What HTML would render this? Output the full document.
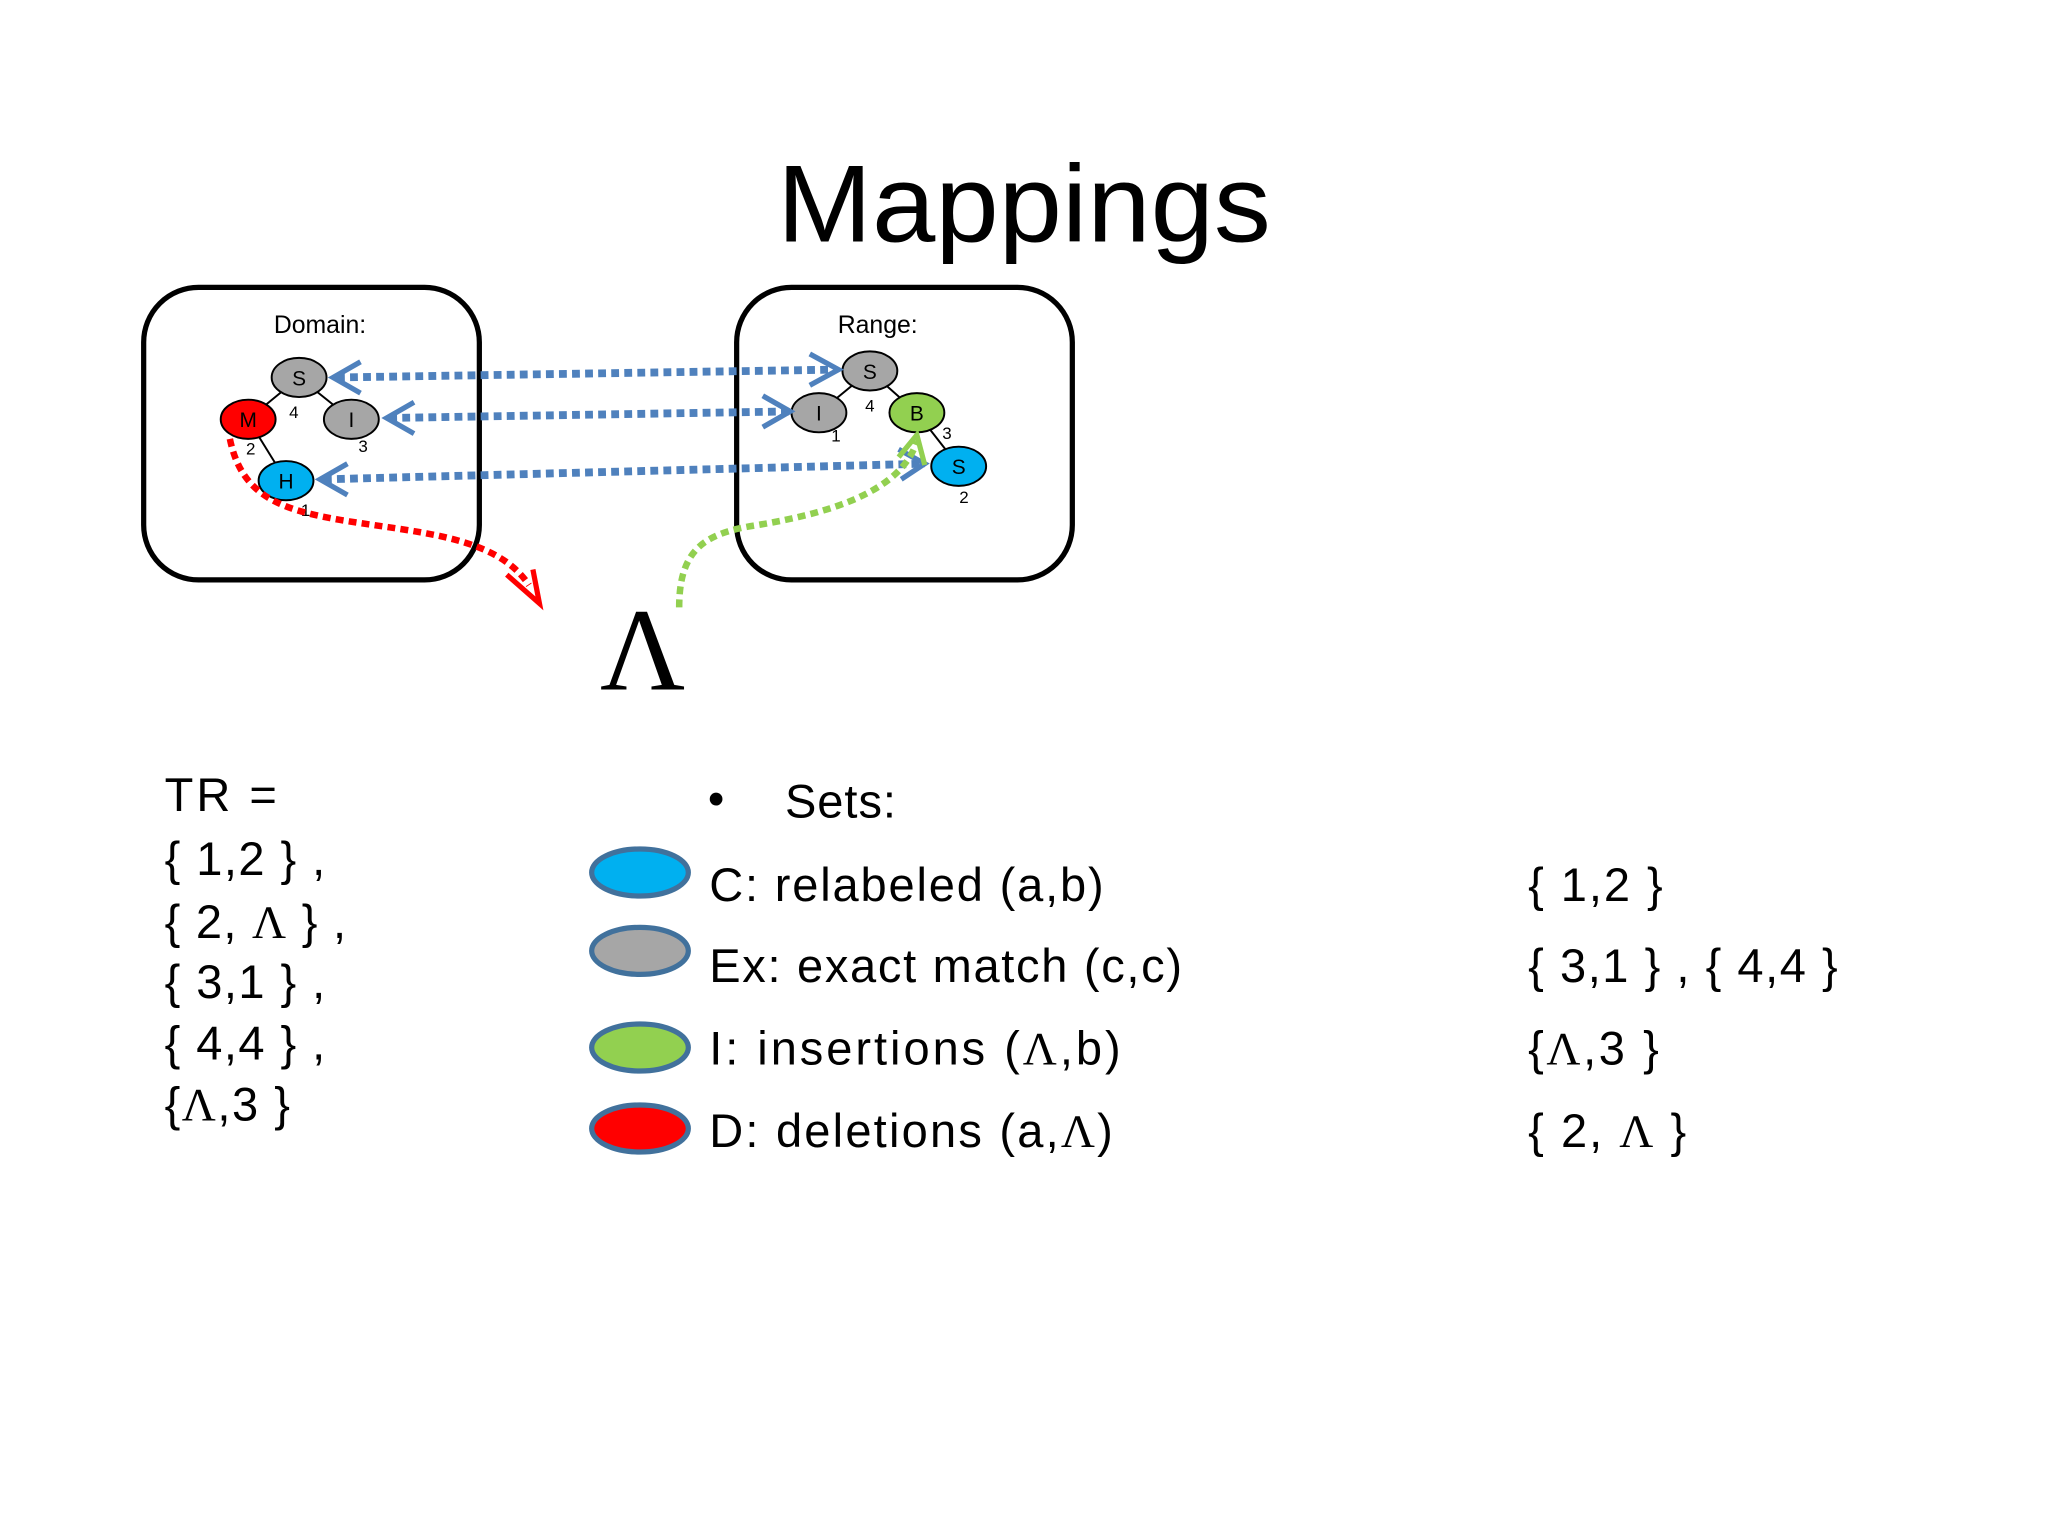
<!DOCTYPE html>
<html><head><meta charset="utf-8"><style>html,body{margin:0;padding:0;background:#fff}svg{display:block}</style></head>
<body>
<svg width="2048" height="1536" viewBox="0 0 1568 1176" xmlns="http://www.w3.org/2000/svg" font-family="Liberation Sans, sans-serif">
<rect width="1568" height="1176" fill="#fff"/>
<text x="595" y="185" font-size="84" textLength="378" lengthAdjust="spacingAndGlyphs" fill="#000">Mappings</text>
<rect x="110" y="220" width="257" height="224" rx="42" fill="none" stroke="#000" stroke-width="4"/>
<rect x="564" y="220" width="257" height="224" rx="42" fill="none" stroke="#000" stroke-width="4"/>
<text x="245" y="255" font-size="19" text-anchor="middle">Domain:</text>
<text x="672" y="255" font-size="19" text-anchor="middle">Range:</text>
<g stroke="#000" stroke-width="1.5">
<line x1="229" y1="289" x2="190" y2="321"/><line x1="229" y1="289" x2="269" y2="321"/><line x1="190" y1="321" x2="219" y2="368"/>
<line x1="666" y1="284" x2="627" y2="316"/><line x1="666" y1="284" x2="702" y2="316"/><line x1="702" y1="316" x2="734" y2="357"/>
</g>
<g stroke="#000" stroke-width="1.5">
<ellipse cx="229" cy="289" rx="21" ry="15" fill="#a6a6a6"/>
<ellipse cx="190" cy="321" rx="21" ry="15" fill="#ff0000"/>
<ellipse cx="269" cy="321" rx="21" ry="15" fill="#a6a6a6"/>
<ellipse cx="219" cy="368" rx="21" ry="15" fill="#00b0f0"/>
<ellipse cx="666" cy="284" rx="21" ry="15" fill="#a6a6a6"/>
<ellipse cx="627" cy="316" rx="21" ry="15" fill="#a6a6a6"/>
<ellipse cx="702" cy="316" rx="21" ry="15" fill="#92d050"/>
<ellipse cx="734" cy="357" rx="21" ry="15" fill="#00b0f0"/>
</g>
<g font-size="16" text-anchor="middle">
<text x="229" y="295">S</text><text x="190" y="327">M</text><text x="269" y="327">I</text><text x="219" y="374">H</text>
<text x="666" y="290">S</text><text x="627" y="322">I</text><text x="702" y="322">B</text><text x="734" y="363">S</text>
</g>
<g font-size="13" text-anchor="middle">
<text x="225" y="320">4</text><text x="278" y="346">3</text><text x="192" y="348">2</text><text x="234" y="395">1</text>
<text x="666" y="315">4</text><text x="640" y="338">1</text><text x="725" y="336">3</text><text x="738" y="385">2</text>
</g>
<g fill="none" stroke="#4f81bd" stroke-width="6" stroke-dasharray="6 4">
<path d="M258 289 L640 283"/><path d="M298 320 L604 315"/><path d="M248 367 L708 355"/>
</g>
<g fill="none" stroke="#4f81bd" stroke-width="4">
<path d="M276 277 L255 289 L276 301"/><path d="M620 271 L642 283 L620 295"/>
<path d="M317 308 L296 320 L317 332"/><path d="M584 303 L605 315 L584 327"/>
<path d="M266 355 L245 367 L266 379"/><path d="M688 344 L708 355 L690 367"/>
</g>
<path d="M176 336 C185 380 215 390 260 398 C320 408 380 410 405 448" fill="none" stroke="#ff0000" stroke-width="5" stroke-dasharray="6 4"/>
<path d="M388 440 L413 462 L408 436" fill="none" stroke="#ff0000" stroke-width="4"/>
<path d="M520 465 C520 420 540 408 580 402 C640 392 690 375 702 338" fill="none" stroke="#92d050" stroke-width="5" stroke-dasharray="6 4"/>
<path d="M688 350 L702 333 L708 356" fill="none" stroke="#92d050" stroke-width="4"/>
<text x="492" y="528" font-size="90" text-anchor="middle" font-family="Liberation Serif, serif">Λ</text>
<g font-size="36" fill="#000" lengthAdjust="spacingAndGlyphs">
<text x="126" y="621" textLength="86">TR =</text>
<text x="126" y="670" textLength="123">{ 1,2 } ,</text>
<text x="126" y="718" textLength="139">{ 2, <tspan font-family="Liberation Serif, serif">Λ</tspan> } ,</text>
<text x="126" y="764" textLength="123">{ 3,1 } ,</text>
<text x="126" y="811" textLength="123">{ 4,4 } ,</text>
<text x="126" y="858" textLength="96">{<tspan font-family="Liberation Serif, serif">Λ</tspan>,3 }</text>
<text x="542" y="624">•</text>
<text x="601" y="626" textLength="85">Sets:</text>
<text x="543" y="690" textLength="302">C: relabeled (a,b)</text>
<text x="543" y="752" textLength="362">Ex: exact match (c,c)</text>
<text x="543" y="815" textLength="315">I: insertions  (<tspan font-family="Liberation Serif, serif">Λ</tspan>,b)</text>
<text x="543" y="878" textLength="309">D: deletions (a,<tspan font-family="Liberation Serif, serif">Λ</tspan>)</text>
<text x="1170" y="690" textLength="103">{ 1,2 }</text>
<text x="1170" y="752" textLength="237">{ 3,1 } , { 4,4 }</text>
<text x="1170" y="815" textLength="100">{<tspan font-family="Liberation Serif, serif">Λ</tspan>,3 }</text>
<text x="1170" y="878" textLength="121">{ 2, <tspan font-family="Liberation Serif, serif">Λ</tspan> }</text>
</g>
<g stroke="#41719c" stroke-width="4">
<ellipse cx="490" cy="668" rx="37" ry="18" fill="#00b0f0"/>
<ellipse cx="490" cy="728" rx="37" ry="18" fill="#a6a6a6"/>
<ellipse cx="490" cy="802" rx="37" ry="18" fill="#92d050"/>
<ellipse cx="490" cy="864" rx="37" ry="18" fill="#ff0000"/>
</g>
</svg>
</body></html>
